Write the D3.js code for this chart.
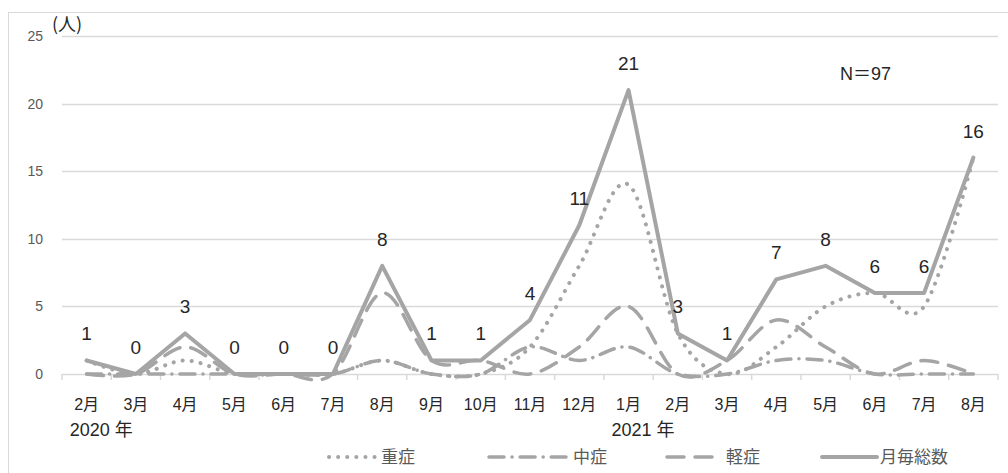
<!DOCTYPE html>
<html>
<head>
<meta charset="utf-8">
<script src="https://cdn.jsdelivr.net/npm/d3@7"></script>
<style>
  body { margin: 0; background: #fff; }
  svg { display: block; font-family: "Liberation Sans", Arial, "Noto Sans CJK JP", sans-serif; }
</style>
</head>
<body>
<div id="chart"></div>
<script>
// months Feb 2020 .. Aug 2021
const months = ["2月", "3月", "4月", "5月", "6月", "7月", "8月", "9月", "10月", "11月", "12月",
  "1月", "2月", "3月", "4月", "5月", "6月", "7月", "8月"];
const severe = [1, 0, 1, 0, 0, 0, 1, 0, 0, 2, 8, 14, 3, 0, 2, 5, 6, 5, 16];   // 重症
const moderate = [0, 0, 0, 0, 0, 0, 1, 0, 0, 2, 1, 2, 0, 0, 1, 1, 0, 0, 0];   // 中症
const mild = [0, 0, 2, 0, 0, 0, 6, 1, 1, 0, 2, 5, 0, 1, 4, 2, 0, 1, 0];       // 軽症
const total = [1, 0, 3, 0, 0, 0, 8, 1, 1, 4, 11, 21, 3, 1, 7, 8, 6, 6, 16];   // 月毎総数
const yTicks = [0, 5, 10, 15, 20, 25];
const yearLabels = [{ idx: 0, text: "2020 年" }, { idx: 11, text: "2021 年" }];

const width = 1008, height = 473;
const margin = { top: 36, right: 10, bottom: 99, left: 62 };
const lineColor = "#a5a5a5";

const svg = d3.select("#chart").append("svg")
  .attr("width", width)
  .attr("height", height);

// outer frame
svg.append("rect")
  .attr("x", 8.5).attr("y", 12.5)
  .attr("width", 1010).attr("height", 480)
  .attr("fill", "none").attr("stroke", "#d9d9d9");

const x = d3.scaleBand()
  .domain(d3.range(months.length))
  .range([margin.left, 998])
  .padding(0);
const cx = (i) => x(i) + x.bandwidth() / 2;

const y = d3.scaleLinear()
  .domain([0, 25])
  .range([374, margin.top]);

// gridlines
svg.append("g")
  .selectAll("line")
  .data(yTicks.filter((d) => d > 0))
  .join("line")
  .attr("x1", margin.left).attr("x2", 998)
  .attr("y1", (d) => Math.round(y(d)) + 0.5)
  .attr("y2", (d) => Math.round(y(d)) + 0.5)
  .attr("stroke", "#d9d9d9")
  .attr("stroke-width", 1.5);

// y axis labels
const yAxis = d3.axisLeft(y).tickValues(yTicks).tickSize(0).tickPadding(19);
const yg = svg.append("g").attr("transform", `translate(${margin.left},0)`).call(yAxis);
yg.select(".domain").remove();
yg.selectAll("text")
  .attr("fill", "#595959")
  .style("font-size", "14px")
  .style("font-family", "'Liberation Sans', Arial, sans-serif");

svg.append("text")
  .attr("x", 52).attr("y", 31)
  .attr("fill", "#262626")
  .style("font-size", "18px")
  .style("font-family", "'Noto Sans CJK JP', sans-serif")
  .text("(人)");

// x axis with ticks at category boundaries
const xg = svg.append("g");
xg.append("line")
  .attr("x1", margin.left).attr("x2", 998)
  .attr("y1", y(0) + 0.5).attr("y2", y(0) + 0.5)
  .attr("stroke", "#d9d9d9").attr("stroke-width", 1.5);
xg.selectAll(".tick")
  .data(d3.range(months.length + 1))
  .join("line")
  .attr("class", "tick")
  .attr("x1", (i) => margin.left + i * x.bandwidth())
  .attr("x2", (i) => margin.left + i * x.bandwidth())
  .attr("y1", y(0)).attr("y2", y(0) + 6)
  .attr("stroke", "#d9d9d9").attr("stroke-width", 1.5);
xg.selectAll(".mlabel")
  .data(months)
  .join("text")
  .attr("class", "mlabel")
  .attr("x", (d, i) => cx(i))
  .attr("y", 410)
  .attr("text-anchor", "middle")
  .attr("fill", "#262626")
  .style("font-size", "16px")
  .text((d) => d);
xg.selectAll(".ylabel")
  .data(yearLabels)
  .join("text")
  .attr("class", "ylabel")
  .attr("x", (d) => cx(d.idx) - 17)
  .attr("y", 436)
  .attr("fill", "#262626")
  .style("font-size", "18px")
  .text((d) => d.text);

// series
const series = [
  { name: "重症", values: severe, dash: "0.1 9", width: 4, curve: true },
  { name: "中症", values: moderate, dash: "15 8 0.1 8", width: 3.5, curve: true },
  { name: "軽症", values: mild, dash: "17 11", width: 3.5, curve: true },
  { name: "月毎総数", values: total, dash: null, width: 4, curve: false },
];

const smooth = d3.line().x((d, i) => cx(i)).y((d) => y(d)).curve(d3.curveCardinal.tension(0));
const straight = d3.line().x((d, i) => cx(i)).y((d) => y(d));

series.forEach((s) => {
  svg.append("path")
    .datum(s.values)
    .attr("fill", "none")
    .attr("stroke", lineColor)
    .attr("stroke-width", s.width)
    .attr("stroke-linecap", "round")
    .attr("stroke-linejoin", "round")
    .attr("stroke-dasharray", s.dash)
    .attr("d", s.curve ? smooth(s.values) : straight(s.values));
});

// total value labels
svg.append("g")
  .selectAll("text")
  .data(total)
  .join("text")
  .attr("x", (d, i) => cx(i))
  .attr("y", (d) => y(d) - 20)
  .attr("text-anchor", "middle")
  .attr("fill", "#262626")
  .style("font-size", "19px")
  .text((d) => d);

svg.append("text")
  .attr("x", 840).attr("y", 80)
  .attr("fill", "#262626")
  .style("font-size", "18px")
  .text("N＝97");

// legend
const legendItems = [
  { s: series[0], x0: 329, x1: 377, tx: 381 },
  { s: series[1], x0: 489, x1: 566, tx: 573 },
  { s: series[2], x0: 667, x1: 720, tx: 726 },
  { s: series[3], x0: 822, x1: 877, tx: 880 },
];
const lg = svg.append("g");
legendItems.forEach((d) => {
  lg.append("line")
    .attr("x1", d.x0).attr("x2", d.x1)
    .attr("y1", 457).attr("y2", 457)
    .attr("stroke", lineColor)
    .attr("stroke-width", d.s.width)
    .attr("stroke-linecap", "round")
    .attr("stroke-dasharray", d.s.dash);
  lg.append("text")
    .attr("x", d.tx).attr("y", 463)
    .attr("fill", "#595959")
    .style("font-size", "17px")
    .style("font-family", "'Noto Sans CJK JP', sans-serif")
    .text(d.s.name);
});
</script>
</body>
</html>
